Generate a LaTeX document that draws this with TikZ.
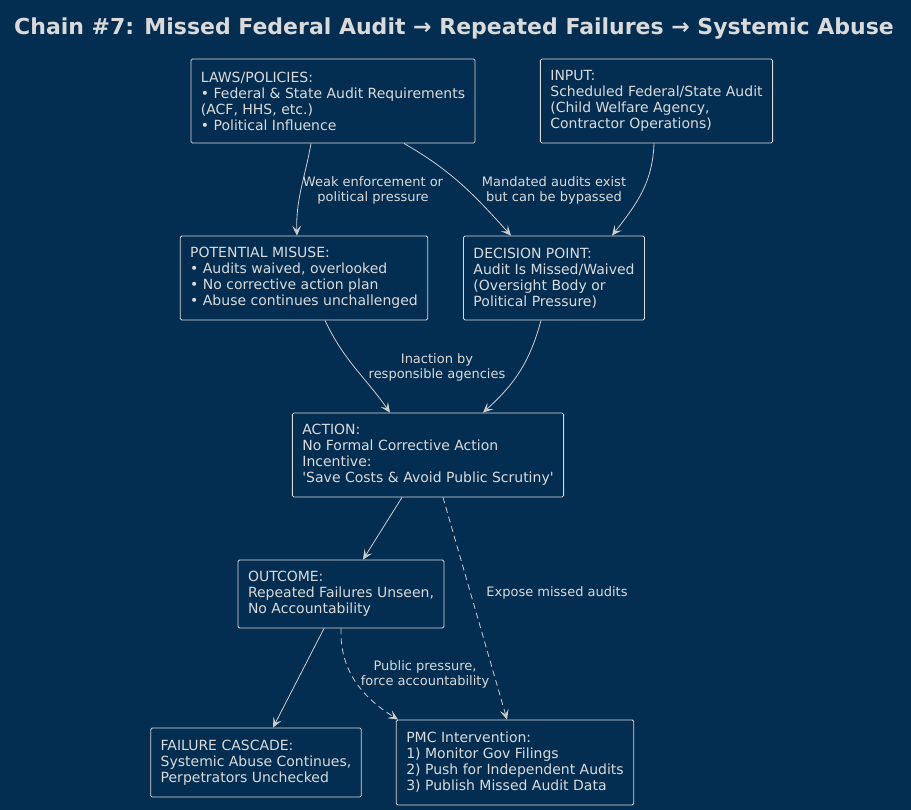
\documentclass[tikz,border=0pt]{standalone}
\usepackage{fontspec}
\setmainfont{DejaVu Sans}[Ligatures=TeXOff]
\usetikzlibrary{arrows.meta}
\definecolor{navy}{RGB}{4,46,81}
\definecolor{ink}{RGB}{218,218,218}
\definecolor{wire}{RGB}{205,205,205}
\tikzset{
	box/.style={draw=ink, line width=0.8pt, rounded corners=1.5pt, align=left, text=ink,
		inner xsep=10pt, inner ysep=4pt, font=\fontsize{14}{16}\selectfont, anchor=center},
	lbl/.style={align=center, text=ink, font=\fontsize{13}{15}\selectfont},
	arr/.style={draw=wire, line width=0.8pt, -{Stealth[length=10pt,width=9pt,inset=4.5pt]}}
}
\begin{document}
\begin{tikzpicture}[x=1pt, y=-1pt]
			%%%%% START %%%%%
			
			\fill[navy] (0, 0) rectangle (911, 810);
			\useasboundingbox (0, 0) rectangle (911, 810);
			
			\node[text=ink, font=\fontsize{22}{26}\selectfont\bfseries] (title) at (454, 28.5) {Chain \#7: Missed Federal Audit → Repeated Failures → Systemic Abuse};
			
			\node[box, minimum height=84pt] (laws) at (333, 101) {LAWS/POLICIES:\\• Federal \& State Audit Requirements\\(ACF, HHS, etc.)\\• Political Influence};
			\node[box, minimum height=84pt] (input) at (656.5, 101) {INPUT:\\Scheduled Federal/State Audit\\(Child Welfare Agency,\\Contractor Operations)};
			
			\node[box, minimum height=84pt] (misuse) at (304, 278) {POTENTIAL MISUSE:\\• Audits waived, overlooked\\• No corrective action plan\\• Abuse continues unchallenged};
			\node[box, minimum height=84pt] (decision) at (554, 278) {DECISION POINT:\\Audit Is Missed/Waived\\(Oversight Body or\\Political Pressure)};
			
			\node[box, minimum height=84pt] (action) at (428, 455) {ACTION:\\No Formal Corrective Action\\Incentive:\\'Save Costs \& Avoid Public Scrutiny'};
			
			\node[box, minimum height=68pt] (outcome) at (341, 594) {OUTCOME:\\Repeated Failures Unseen,\\No Accountability};
			
			\node[box, minimum height=69pt] (cascade) at (256, 762.5) {FAILURE CASCADE:\\Systemic Abuse Continues,\\Perpetrators Unchecked};
			\node[box, minimum height=85pt] (pmc) at (515, 762.5) {PMC Intervention:\\1) Monitor Gov Filings\\2) Push for Independent Audits\\3) Publish Missed Audit Data};
			
			% connectors
			\draw[arr] ([xshift=-22pt]laws.south) to[out=-100, in=92] ([xshift=-7pt]misuse.north);
			\draw[arr] ([xshift=71pt]laws.south) to[out=-30, in=132] ([xshift=-43pt]decision.north);
			\draw[arr] ([xshift=-2.5pt]input.south) to[out=-92, in=52] ([xshift=58pt]decision.north);
			\draw[arr] ([xshift=21pt]misuse.south) to[out=-65, in=125] ([xshift=-38pt]action.north);
			\draw[arr] ([xshift=-13pt]decision.south) to[out=-105, in=42] ([xshift=55pt]action.north);
			\draw[arr] ([xshift=-26pt]action.south) -- ([xshift=22pt]outcome.north);
			\draw[arr, dashed, dash pattern=on 6pt off 4pt] ([xshift=15pt]action.south) -- ([xshift=-8pt]pmc.north);
			\draw[arr] ([xshift=-17pt]outcome.south) -- ([xshift=17pt]cascade.north);
			\draw[arr, dashed, dash pattern=on 6pt off 4pt] ([xshift=0pt]outcome.south) to[out=-92, in=148] ([xshift=-117pt]pmc.north);
			
			% labels
			\node[lbl] (weak) at (373, 190) {Weak enforcement or\\political pressure};
			\node[lbl] (mandated) at (554, 190) {Mandated audits exist\\but can be bypassed};
			\node[lbl] (inaction) at (437, 367) {Inaction by\\responsible agencies};
			\node[lbl] (expose) at (557, 593) {Expose missed audits};
			\node[lbl] (public) at (425, 674) {Public pressure,\\force accountability};
			
			%%%%% END %%%%%
\end{tikzpicture}
\end{document}
